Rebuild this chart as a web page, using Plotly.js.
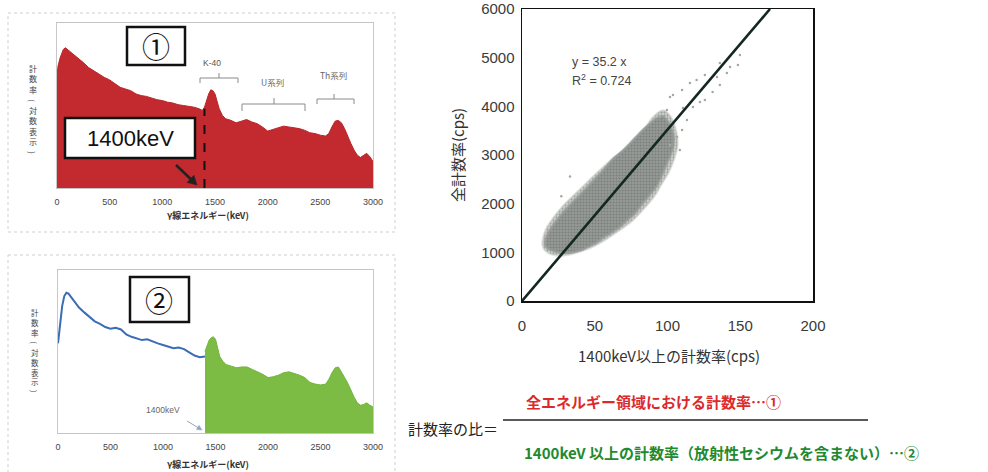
<!DOCTYPE html>
<html><head><meta charset="utf-8">
<script src="https://cdn.plot.ly/plotly-3.0.1.min.js"></script>
<style>html,body{margin:0;padding:0;background:#fff}#chart{width:988px;height:472px}</style>
</head><body><div id="chart"></div>
<script>
// ---------- Chart ① : full spectrum (relative log-scale height, 0-100) ----------
const energy1 = [0,10,30,60,80,100,150,200,250,300,350,400,450,500,550,600,650,700,750,800,850,900,950,1000,1050,1100,1150,1200,1250,1300,1350,1380,1400,1420,1440,1460,1480,1500,1520,1540,1570,1600,1650,1700,1750,1800,1850,1900,1950,2000,2050,2100,2150,2200,2250,2300,2350,2400,2450,2500,2550,2580,2610,2640,2670,2700,2730,2760,2790,2820,2850,2880,2910,2940,2970,3000];
const counts1 = [68,74,79,84,85,84,81.5,79,76,73,71,68.5,67,65.5,63,61,60,59,57,56,55.5,54.5,53.5,53,52,51.5,50.5,50,49.5,49,48,47,49,53,57,59.5,59,57,52,48,44,42,41,39.5,40.5,41.5,40,39,37,34.5,35.5,36.5,37.5,37,36.5,36,35,33.5,33,32,31.5,33,37,40.5,41,39.5,36,31,27,23,20,18.5,19.5,21,19,16];

// ---------- Chart ② : below 1400 keV (line) and above 1400 keV (filled) ----------
const energy2Low = [0,10,20,40,60,80,100,150,200,250,300,350,400,450,500,550,600,650,700,750,800,850,900,950,1000,1050,1100,1150,1200,1250,1300,1350,1400];
const counts2Low = [55,62,69,78,84,86,85.5,81,77,74,71,68.5,67,65,64,64.5,63.5,60.5,59,58,57,57.5,56,55,54,53,52,52.5,51.5,49.5,47.5,46.5,47];
const energy2High = [1400,1420,1440,1460,1480,1500,1520,1540,1570,1600,1650,1700,1750,1800,1850,1900,1950,2000,2050,2100,2150,2200,2250,2300,2350,2400,2450,2500,2550,2580,2610,2640,2670,2700,2730,2760,2790,2820,2850,2880,2910,2940,2970,3000];
const counts2High = [50,54,57,58.5,59,57.5,52,47,44,42,41,40,40.5,40.5,39,37.5,36,34,34.5,35.5,37,37.5,36.5,35.5,34,31,30,29.5,30,33,37,40,40.5,37.5,34,30.5,26,22,18.5,17,17.5,18.5,17,16];
const spectrumTicks = [0,500,1000,1500,2000,2500,3000];
const cutoffKeV = 1400;

// ---------- Scatter: cloud outlines (cps) and sparse outlying points ----------
const cloudOuterX = [14,16,20,28,40,52,62,74,83,90,97,102,106,107,105,101,96,91,84,76,66,57,50,42,34,27,20,16,14];
const cloudOuterY = [1150,1450,1650,1950,2300,2650,2920,3200,3480,3780,3920,3800,3500,3200,2950,2650,2400,2150,1900,1650,1430,1250,1130,1030,960,930,960,1030,1150];
const cloudX = [16,17,20,24,29,35,41,47,53,58,63,69,74,79,84,89,93,97,101,104,104,102,99,96,92,87,82,77,72,67,62,56,51,45,40,34,29,24,20,17,16];
const cloudY = [1170,1320,1490,1660,1840,2030,2210,2400,2590,2760,2930,3080,3230,3390,3540,3670,3760,3790,3640,3420,3200,3000,2800,2580,2340,2160,1980,1790,1660,1520,1420,1310,1200,1110,1040,1000,990,1010,1050,1100,1170];
const sparseX = [149.8,140.8,143,134,136,131,125.7,120,115.4,110,103.8,125.7,122.3,117.5,110.6,101.7,99.6,94.8,113.4,110,106.5,101.7,148.4,136,108.5,103,33,27];
const sparseY = [5055,4685,4808,4603,4439,4295,4644,4541,4480,4336,4233,4130,4090,3987,3966,4192,3925,3781,3720,3514,3370,3206,4850,4891,3103,3600,2560,2150];
const slope = 35.2;
const fitX = [0, 170.45];
const fitY = fitX.map(v => slope * v);
const scatterXTicks = [0,50,100,150,200];
const scatterYTicks = [0,1000,2000,3000,4000,5000,6000];

// ---------- helpers (pixel -> paper) ----------
const W = 988, H = 472;
const PX = x => x / W, PY = y => 1 - y / H;
const JP = 'Noto Sans CJK JP';
const LAT = 'Liberation Sans';
function ann(text, x, y, o) {
  return Object.assign({text, x: PX(x), y: PY(y), xref: 'paper', yref: 'paper',
    showarrow: false, xanchor: 'center', yanchor: 'middle',
    font: {family: JP, size: 10, color: '#222'}}, o || {});
}
function seg(x0, y0, x1, y1, color, width, dash) {
  return {type: 'line', xref: 'paper', yref: 'paper', x0: PX(x0), y0: PY(y0), x1: PX(x1), y1: PY(y1),
    line: {color, width, dash: dash || 'solid'}, layer: 'above'};
}
function rect(x0, y0, x1, y1, color, width, fill, dash, layer) {
  return {type: 'rect', xref: 'paper', yref: 'paper', x0: PX(x0), y0: PY(y0), x1: PX(x1), y1: PY(y1),
    line: {color, width, dash: dash || 'solid'}, fillcolor: fill || 'rgba(0,0,0,0)', layer: layer || 'above'};
}
function bracket(xa, xb, yh, yend, xm, ytip) {
  const c = '#8a8a8a';
  return [seg(xa, yend, xa, yh, c, 1), seg(xa, yh, xb, yh, c, 1), seg(xb, yh, xb, yend, c, 1), seg(xm, yh, xm, ytip, c, 1)];
}
function arrow(x0, y0, x1, y1, len, half, color, width) {
  const d = Math.hypot(x1 - x0, y1 - y0), ux = (x1 - x0) / d, uy = (y1 - y0) / d;
  const cx = x1 - ux * len, cy = y1 - uy * len;
  const b1 = [cx - uy * half, cy + ux * half], b2 = [cx + uy * half, cy - ux * half];
  const p = (a, b) => PX(a) + ',' + PY(b);
  return [seg(x0, y0, cx + ux, cy + uy, color, width),
    {type: 'path', xref: 'paper', yref: 'paper', layer: 'above',
     path: 'M' + p(x1, y1) + ' L' + p(b1[0], b1[1]) + ' L' + p(b2[0], b2[1]) + ' Z',
     fillcolor: color, line: {color, width: 0.5}}];
}
// vertical (upright) Japanese axis label: 計数率(対数表示)
function verticalLabel(x, yTop, size) {
  const s = size * 1.3, f = {family: JP, size, color: '#444'};
  const yl = i => yTop + s * i;
  return [
    ann('計<br>数<br>率', x, yl(1), {font: f}),
    ann('(', x, yl(3), {textangle: 90, font: f}),
    ann('対<br>数<br>表<br>示', x, (yl(4) + yl(7)) / 2, {font: f}),
    ann(')', x, yl(8), {textangle: 90, font: f})
  ];
}

const traces = [
  {x: energy1, y: counts1, xaxis: 'x', yaxis: 'y', type: 'scatter', mode: 'lines',
   fill: 'tozeroy', fillcolor: '#c22a2f', line: {color: '#b8262b', width: 1}, hoverinfo: 'skip'},
  {x: energy2Low, y: counts2Low, xaxis: 'x2', yaxis: 'y2', type: 'scatter', mode: 'lines',
   line: {color: '#3a6db4', width: 2}, hoverinfo: 'skip'},
  {x: energy2High, y: counts2High, xaxis: 'x2', yaxis: 'y2', type: 'scatter', mode: 'lines',
   fill: 'tozeroy', fillcolor: '#7cbc45', line: {color: '#72b43c', width: 1}, hoverinfo: 'skip'},
  {x: cloudOuterX, y: cloudOuterY, xaxis: 'x3', yaxis: 'y3', type: 'scatter', mode: 'lines',
   fill: 'toself', fillcolor: '#c2c5c2',
   fillpattern: {shape: '.', bgcolor: '#d2d4d2', fgcolor: '#9da19d', size: 3, solidity: 0.45},
   line: {color: 'rgba(200,202,200,0.5)', width: 2, shape: 'spline'}, hoverinfo: 'skip'},
  {x: cloudX, y: cloudY, xaxis: 'x3', yaxis: 'y3', type: 'scatter', mode: 'lines',
   fill: 'toself', fillcolor: '#8f938f',
   fillpattern: {shape: '.', bgcolor: '#979b97', fgcolor: '#7a7f7a', size: 3, solidity: 0.4},
   line: {color: 'rgba(150,154,150,0.8)', width: 2.5, shape: 'spline'}, hoverinfo: 'skip'},
  {x: sparseX, y: sparseY, xaxis: 'x3', yaxis: 'y3', type: 'scatter', mode: 'markers',
   marker: {color: '#a4a8a4', size: 2.5}, hoverinfo: 'skip'},
  {x: fitX, y: fitY, xaxis: 'x3', yaxis: 'y3', type: 'scatter', mode: 'lines',
   line: {color: '#13281e', width: 2.6}, hoverinfo: 'skip'}
];

const specAxisX = (dom, anchor) => ({domain: dom, anchor, range: [0, 3000], tickvals: spectrumTicks,
  showline: true, linecolor: '#c4c4c4', linewidth: 1, mirror: true, ticks: 'outside', ticklen: 5,
  tickcolor: 'rgba(0,0,0,0)', tickfont: {family: LAT, size: 9, color: '#444'},
  showgrid: false, zeroline: false, fixedrange: true});
const specAxisY = (dom, anchor) => ({domain: dom, anchor, range: [0, 100], showticklabels: false,
  showline: true, linecolor: '#c8c8c8', linewidth: 1, mirror: true, ticks: '',
  showgrid: false, zeroline: false, fixedrange: true});

const shapes = [
  rect(8, 13, 395, 232, '#cfcfcf', 1, null, 'dot', 'below'),
  rect(8, 255, 395, 490, '#cfcfcf', 1, null, 'dot', 'below'),
  // chart ① decorations
  {type: 'line', xref: 'x', yref: 'y', x0: cutoffKeV, x1: cutoffKeV, y0: 0, y1: 48,
   line: {color: '#111', width: 2, dash: 'dash'}, layer: 'above'},
  rect(127, 27, 185, 65, '#111', 2.5, '#fff'),
  rect(65, 118, 195, 158, '#111', 2.5, '#fff'),
  ...arrow(176, 165, 197, 185, 9, 5, '#222', 2.6),
  ...bracket(200, 238, 78, 83, 219, 73),
  ...bracket(242, 305, 104, 111, 274, 98),
  ...bracket(317, 354, 99, 104, 334, 94),
  // chart ②
  rect(130, 277, 189, 322, '#111', 2.5, '#fff'),
  ...arrow(187, 421, 202, 430, 5, 2.5, '#8fa6c6', 1),
  // fraction bar
  seg(503, 420, 868, 420, '#222', 1.4)
];

const annotations = [
  ann('①', 156, 46, {font: {family: JP, size: 28, color: '#111'}}),
  ann('1400keV', 130, 138, {font: {family: LAT, size: 22, color: '#111'}}),
  ann('K-40', 212, 63, {font: {family: LAT, size: 8.5, color: '#555'}}),
  ann('U系列', 272, 82, {font: {family: JP, size: 8.5, color: '#666'}}),
  ann('Th系列', 333, 75, {font: {family: JP, size: 8.5, color: '#666'}}),
  ...verticalLabel(33, 69, 8),
  ann('<b>γ線エネルギー(keV)</b>', 208, 215, {font: {family: JP, size: 9, color: '#333'}}),
  // chart ②
  ann('②', 159, 300, {font: {family: JP, size: 28, color: '#111'}}),
  ann('1400keV', 163, 410, {font: {family: LAT, size: 8.5, color: '#666'}}),
  ...verticalLabel(35, 313, 7.5),
  ann('<b>γ線エネルギー(keV)</b>', 208, 464, {font: {family: JP, size: 9, color: '#333'}}),
  // scatter
  ann('y = 35.2 x', 570, 62, {xanchor: 'left', font: {family: LAT, size: 12.5, color: '#444'}}),
  ann('R<sup>2</sup> = 0.724', 570, 80, {xanchor: 'left', font: {family: LAT, size: 12.5, color: '#444'}}),
  ann('全計数率(cps)', 457, 155, {textangle: -90, font: {family: JP, size: 15, color: '#333'}}),
  ann('1400keV以上の計数率(cps)', 669, 355, {font: {family: JP, size: 15, color: '#333'}}),
  // formula
  ann('計数率の比＝', 453, 428, {font: {family: JP, size: 15, color: '#222'}}),
  ann('<b>全エネルギー領域における計数率…①</b>', 653, 401, {font: {family: JP, size: 15, color: '#db2a2d'}}),
  ann('<b>1400keV 以上の計数率（放射性セシウムを含まない）…②</b>', 721, 452, {font: {family: JP, size: 15, color: '#1f8a2f'}})
];

const layout = {
  width: W, height: H, margin: {l: 0, r: 0, t: 0, b: 0},
  paper_bgcolor: '#fff', plot_bgcolor: '#fff', showlegend: false,
  font: {family: LAT + ', ' + JP},
  xaxis: specAxisX([PX(57), PX(373)], 'y'),
  yaxis: specAxisY([PY(188), PY(23)], 'x'),
  xaxis2: specAxisX([PX(58), PX(373)], 'y2'),
  yaxis2: specAxisY([PY(433), PY(270)], 'x2'),
  xaxis3: {domain: [PX(522), PX(813)], anchor: 'y3', range: [0, 200], tickvals: scatterXTicks,
    showline: true, linecolor: '#111', linewidth: 1.5, mirror: true, ticks: 'outside', ticklen: 10,
    tickcolor: 'rgba(0,0,0,0)', tickfont: {family: LAT, size: 15, color: '#3a3a3a'},
    showgrid: false, zeroline: false, fixedrange: true},
  yaxis3: {domain: [PY(301), PY(9)], anchor: 'x3', range: [0, 6000], tickvals: scatterYTicks,
    showline: true, linecolor: '#111', linewidth: 1.5, mirror: true, ticks: 'outside', ticklen: 3,
    tickcolor: 'rgba(0,0,0,0)', tickfont: {family: LAT, size: 15, color: '#3a3a3a'},
    showgrid: false, zeroline: false, fixedrange: true},
  shapes, annotations
};

Plotly.newPlot('chart', traces, layout, {displayModeBar: false, staticPlot: true});
</script></body></html>
